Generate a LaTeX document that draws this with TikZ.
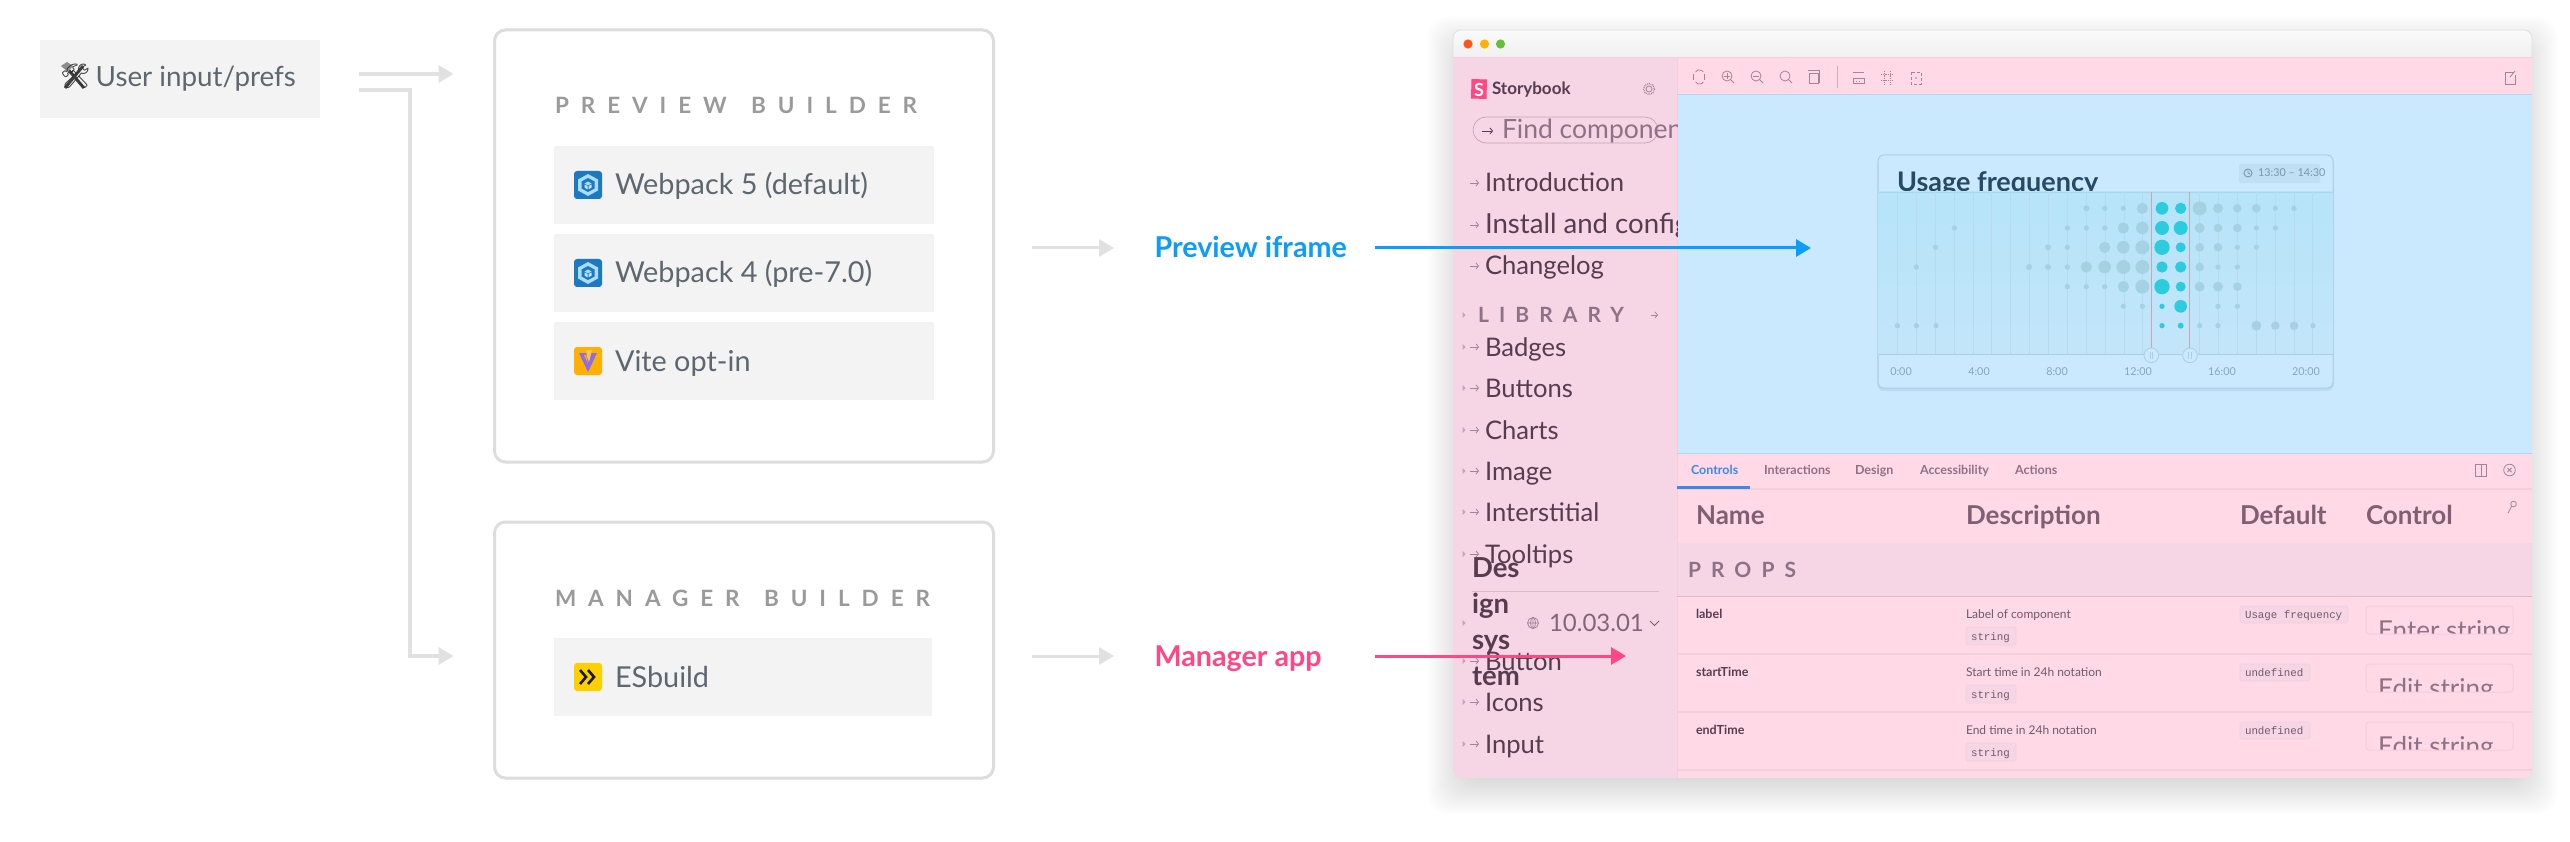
\documentclass[tikz,border=0pt]{standalone}
\usepackage{fontspec}
\setmainfont{Lato}
\setmonofont{Liberation Mono}
\newfontfamily\spfont[LetterSpace=48]{Lato}
\newfontfamily\hdfont[LetterSpace=53]{Lato}
\newfontfamily\emojifont{Noto Emoji}
\usetikzlibrary{arrows.meta,shapes.geometric}
\newcommand\szf[1]{\fontsize{#1}{#1}\selectfont}
\definecolor{boxgrey}{HTML}{F3F3F3}
\definecolor{lineg}{HTML}{DDDDDD}
\definecolor{arrg}{HTML}{E1E1E1}
\definecolor{txtg}{HTML}{5C6770}
\definecolor{headg}{HTML}{9A9A9A}
\definecolor{sbblue}{HTML}{0B9DF9}
\definecolor{sbpink}{HTML}{FF4785}
\definecolor{sidepink}{HTML}{F6D5E5}
\definecolor{panelpink}{HTML}{FFD9E6}
\definecolor{linepink}{HTML}{F3CEDD}
\definecolor{skyb}{HTML}{CAE9FF}
\definecolor{itemt}{HTML}{553D4F}
\definecolor{mutedt}{HTML}{8D7285}
\definecolor{icot}{HTML}{A38696}
\definecolor{cardl}{HTML}{A9CFE6}
\definecolor{dotg}{HTML}{A5D2E3}
\definecolor{dotc}{HTML}{2CCBDD}
\definecolor{axt}{HTML}{87A6BC}
\definecolor{wpblue}{HTML}{1C78C0}
\definecolor{wplight}{HTML}{A9DDF9}
\definecolor{viteo}{HTML}{FFB000}
\definecolor{vitep}{HTML}{8B6CF0}
\definecolor{vitey}{HTML}{FFC83C}
\definecolor{esy}{HTML}{FFCF00}
\definecolor{esk}{HTML}{191919}
\definecolor{tlr}{HTML}{FF5620}
\definecolor{tly}{HTML}{FFB000}
\definecolor{tlg}{HTML}{66BF3C}
\definecolor{titleb}{HTML}{264A63}
\definecolor{badgeb}{HTML}{BFDFF5}
\definecolor{gridtop}{HTML}{B6E4F9}
\definecolor{gridbot}{HTML}{C3E5FA}
\definecolor{redln}{HTML}{C8A8AE}
\definecolor{tabb}{HTML}{3C88F0}
\definecolor{headp}{HTML}{7F6072}
\tikzset{
  txt/.style={anchor=base west,inner sep=0pt,outer sep=0pt},
  boxn/.style={anchor=north west,inner sep=0pt,outer sep=0pt,draw=none,fill=boxgrey},
  cardn/.style={anchor=north west,inner sep=0pt,outer sep=0pt,draw=lineg,line width=3pt,rounded corners=11pt,fill=white},
  garrow/.style={draw=arrg,line width=3.5pt,-{Triangle[length=15pt,width=17pt]}},
  barrow/.style={line width=3pt,-{Triangle[length=15pt,width=17pt]}},
  sitem/.style={txt,font=\szf{25.6},text=itemt},
  ico/.style={draw=icot,line width=.8pt},
  sarr/.style={draw=icot,line width=.8pt,-{Straight Barb[length=2.5pt,width=6pt]}},
  codebox/.style={fill=sidepink,draw=linepink,line width=.6pt,rounded corners=1.5pt},
  codet/.style={txt,font=\ttfamily\szf{10.8},text=itemt!85!white},
  ctrlbox/.style={draw=linepink,line width=1pt,rounded corners=3pt},
}
\newcommand\wpicon[2]{\begin{scope}[shift={(#1,#2)}]
  \fill[wpblue,rounded corners=3pt] (0,0) rectangle (28,28);
  \fill[wplight] (14,3)--(24,8.5)--(24,19.5)--(14,25)--(4,19.5)--(4,8.5)--cycle;
  \fill[wpblue] (14,7)--(20.5,10.5)--(20.5,17.5)--(14,21)--(7.5,17.5)--(7.5,10.5)--cycle;
  \fill[wplight] (14,10.5)--(17.5,12.5)--(14,14.5)--(10.5,12.5)--cycle;
  \fill[wplight!70!white] (10.5,13.5)--(13.5,15)--(13.5,18.5)--(10.5,16.5)--cycle;
  \fill[wplight!70!white] (17.5,13.5)--(14.5,15)--(14.5,18.5)--(17.5,16.5)--cycle;
\end{scope}}
\newcommand\zoomico[2]{\draw[ico] (#1,#2) circle[radius=5];\draw[ico] ({#1+3.5},{#2+3.5})--({#1+7},{#2+7});}
\begin{document}
\begin{tikzpicture}[x=1pt,y=-1pt]
\useasboundingbox (0,0) rectangle (2570,842);
\fill[white] (0,0) rectangle (2570,842);

% ---------- left part
\node[boxn,minimum width=280pt,minimum height=78pt] (user) at (40,40) {};
\draw[black!75,line width=3pt] (66,67)--(84,88) (83,66)--(65,88);
\fill[black!45] (61,66)--(67,62)--(73,66)--(68,72)--cycle;
\node[txt,font=\emojifont\szf{24},text=black!80] (tools) at (60,85) {🛠};
\node[txt,font=\szf{27.8},text=txtg] (userT) at (95.7,87) {User input/prefs};

\node[cardn,minimum width=499pt,minimum height=432pt] (prev) at (494.5,30) {};
\node[txt,font=\hdfont\bfseries\szf{22.5},text=headg] (prevT) at (555,114) {PREVIEW\hspace{7pt} BUILDER};
\node[boxn,minimum width=380pt,minimum height=78pt] (r1) at (554,146) {};
\node[boxn,minimum width=380pt,minimum height=78pt] (r2) at (554,234) {};
\node[boxn,minimum width=380pt,minimum height=78pt] (r3) at (554,322) {};
\wpicon{574}{171}
\wpicon{574}{259}
\begin{scope}[shift={(574,347)}]
  \fill[viteo,rounded corners=3pt] (0,0) rectangle (28,28);
  \fill[vitep] (5,6)--(23,6)--(14,25)--cycle;
  \fill[vitey] (12,3)--(18,3)--(15,15)--(13,10)--cycle;
  \fill[viteo] (10,8)--(12,8)--(14,17)--cycle;
\end{scope}
\node[txt,font=\szf{28.8},text=txtg] (r1T) at (615,195) {Webpack 5 (default)};
\node[txt,font=\szf{28.8},text=txtg] (r2T) at (615,283) {Webpack 4 (pre-7.0)};
\node[txt,font=\szf{28.8},text=txtg] (r3T) at (615,371) {Vite opt-in};

\node[cardn,minimum width=499pt,minimum height=256pt] (man) at (494.5,522) {};
\node[txt,font=\hdfont\bfseries\szf{22.5},text=headg] (manT) at (555,606) {MANAGER\hspace{7pt} BUILDER};
\node[boxn,minimum width=378pt,minimum height=78pt] (r4) at (554,638) {};
\begin{scope}[shift={(574,663)}]
  \fill[esy,rounded corners=3pt] (0,0) rectangle (28,28);
  \draw[esk,line width=2.6pt] (6,7)--(12,14)--(6,21);
  \draw[esk,line width=2.6pt] (14,7)--(20,14)--(14,21);
\end{scope}
\node[txt,font=\szf{28.8},text=txtg] (r4T) at (615,687) {ESbuild};

\coordinate (a1s) at (358.5,74);
\coordinate (a1e) at (453.5,74);
\coordinate (a2s) at (358.5,90);
\coordinate (a2m) at (410,90);
\coordinate (a2n) at (410,656);
\coordinate (a2e) at (453.5,656);
\draw[garrow] (a1s)--(a1e);
\draw[garrow] (a2s)--(a2m)--(a2n)--(a2e);
\coordinate (a3s) at (1032,248);
\coordinate (a3e) at (1114,248);
\coordinate (a4s) at (1032,656);
\coordinate (a4e) at (1114,656);
\draw[garrow,line width=3pt] (a3s)--(a3e);
\draw[garrow,line width=3pt] (a4s)--(a4e);
\node[txt,font=\bfseries\szf{28.7},text=sbblue] (pif) at (1154.5,258) {Preview iframe};
\node[txt,font=\bfseries\szf{28.7},text=sbpink] (mapp) at (1154.5,666) {Manager app};

% ---------- window shadow
\foreach \e in {-12,-11,...,26}{
  \fill[black,opacity=.0045,rounded corners=20pt] ({1453-\e},{42-\e}) rectangle ({2532+\e},{789+\e});
}
% ---------- window
\begin{scope}
\clip[rounded corners=8pt] (1453,30) rectangle (2532,778);
\shade[top color=white!98!black,bottom color=white!94!black] (1453,30) rectangle (2532,58);
\fill[sidepink] (1453,58) rectangle (1677,778);
\fill[panelpink] (1677,58) rectangle (2532,95);
\fill[skyb] (1677,95) rectangle (2532,453);
\fill[panelpink] (1677,453) rectangle (2532,778);
\draw[linepink,line width=1pt] (1453,58)--(2532,58);
\draw[linepink,line width=1pt] (1677,58)--(1677,778);
\draw[cardl!70!skyb,line width=1pt] (1677,95)--(2532,95);
\draw[cardl!70!skyb,line width=1pt] (1677,453)--(2532,453);
\end{scope}
\draw[black!12,line width=.8pt,rounded corners=8pt] (1453,58)--(1453,30)--(2532,30)--(2532,58);
\fill[tlr] (1468,44) circle[radius=4.6];
\fill[tly] (1484.5,44) circle[radius=4.6];
\fill[tlg] (1500.5,44) circle[radius=4.6];

% ---------- sidebar
\begin{scope}
\clip (1453,58) rectangle (1677,778);
\fill[sbpink] (1471.5,79)--(1487,79.5)--(1486.5,99)--(1471,98.5)--cycle;
\node[anchor=center,inner sep=0pt,font=\bfseries\szf{18},text=white] (sbS) at (1479,89.5) {S};
\node[txt,font=\bfseries\szf{17},text=itemt] (sbT) at (1492,95) {Storybook};
\draw[ico] (1649,89) circle[radius=3];
\draw[ico,densely dotted,line width=1.4pt] (1649,89) circle[radius=5.5];
\draw[linepink!80!black,line width=.7pt,rounded corners=13pt] (1473,117) rectangle (1658,143);
\draw[sarr,draw=itemt] (1482,131)--(1493,131);
\node[txt,font=\szf{26.5},text=mutedt] (find) at (1502,139) {Find componen};
\foreach \tn/\bl in {Introduction/192,Changelog/275}{
  \node[sitem] (side\bl) at (1485,\bl) {\tn};
  \draw[sarr] (1470,{\bl-9})--(1479,{\bl-9});
}
\node[sitem,font=\szf{27.6}] (side234) at (1485,234) {Install and config};
\draw[sarr] (1470,225)--(1479,225);
\node[txt,font=\spfont\bfseries\szf{21},text=mutedt] (lib) at (1478,323) {LIBRARY};
\fill[icot!60!sidepink] (1462.5,312)--(1465.5,315)--(1462.5,318)--cycle;
\draw[sarr] (1651,315)--(1658,315);
\foreach \tn/\bl in {Badges/356,Buttons/397,Charts/439,Image/480,Interstitial/521,Tooltips/563,Button/670,Icons/711,Input/753}{
  \node[sitem] (side\bl) at (1485,\bl) {\tn};
  \draw[sarr] (1470,{\bl-9})--(1479,{\bl-9});
  \fill[icot!60!sidepink] (1462.5,{\bl-12})--(1465.5,{\bl-9})--(1462.5,{\bl-6})--cycle;
}
\fill[icot!60!sidepink] (1462.5,620)--(1465.5,623)--(1462.5,626)--cycle;
\draw[linepink!90!black,line width=1pt] (1472,591)--(1659,591);
\foreach \tn/\bl in {Des/577,ign/613,sys/649,tem/685}{
  \node[txt,font=\bfseries\szf{27.5},text=itemt] (dsg\bl) at (1472,\bl) {\tn};
}
\draw[ico] (1533,623) circle[radius=5.5] (1533,617.5)--(1533,628.5) (1527.5,623)--(1538.5,623);
\draw[ico] (1533,623) ellipse[x radius=2.5,y radius=5.5];
\node[txt,font=\szf{24},text=mutedt!90!black] (ver) at (1549,631) {10.03.01};
\draw[ico,draw=itemt!80!white] (1650,621)--(1654.5,625.5)--(1659,621);
\end{scope}

% ---------- toolbar icons
\draw[ico] (1695.5,72) arc[start angle=210,end angle=330,radius=4.5];
\draw[ico] (1695.5,82) arc[start angle=150,end angle=30,radius=4.5];
\draw[ico] (1693.5,74)--(1693.5,80) (1704.5,74)--(1704.5,80);
\zoomico{1727}{76}
\draw[ico] (1724,76)--(1730,76) (1727,73)--(1727,79);
\zoomico{1756}{76}
\draw[ico] (1753,76)--(1759,76);
\zoomico{1785}{76}
\draw[ico] (1809,73) rectangle (1818,83) (1808,70)--(1819,70) (1819,70)--(1819,83);
\draw[linepink!85!black,line width=.8pt] (1837,66)--(1837,88);
\draw[ico] (1853,72)--(1864,72) (1853,78) rectangle (1864,83);
\draw[ico,dotted] (1856,78)--(1856,81) (1859,78)--(1859,81);
\draw[ico,densely dotted] (1884,71)--(1884,84) (1890,71)--(1890,84) (1881,74.5)--(1893,74.5) (1881,80.5)--(1893,80.5);
\draw[ico,densely dashed] (1911,72) rectangle (1921,84);
\fill[icot] (1916,78) circle[radius=.8];
\draw[ico] (2513.5,72)--(2505,72)--(2505,84)--(2515,84)--(2515,75);
\draw[ico] (2510,77)--(2515,71);

% ---------- preview card
\fill[cardl!50!skyb,rounded corners=7pt] (1877,157) rectangle (2334,391);
\draw[cardl,fill=skyb,line width=1pt,rounded corners=6pt] (1878,155) rectangle (2333,388);
\node[txt,font=\bfseries\szf{27},text=titleb] (ut) at (1897,192) {Usage frequency};
\fill[badgeb,rounded corners=2pt] (2239,164) rectangle (2320,183);
\draw[axt!90!black,line width=.9pt] (2248,173) circle[radius=4] (2248,170.5)--(2248,173)--(2250,174);
\node[txt,font=\szf{10.8},text=axt!90!black] (ubadge) at (2258,177) {13:30 – 14:30};
\shade[top color=gridtop,bottom color=gridbot] (1878.5,192) rectangle (2332.5,354);
\draw[cardl!80!skyb,line width=.8pt] (1878.5,192)--(2332.5,192);
\draw[cardl,line width=1pt] (1878.5,354)--(2332.5,354);
\begin{scope}[shift={(1860,140)},x=.33333pt,y=-.33333pt]
  \foreach \xx in {112,169,226,283,339,395,451,508,565,622,679,736,792,848,1019,1075,1132,1189,1245,1302,1358}{
    \draw[cardl!60!skyb,line width=1pt] (\xx,155)--(\xx,642);
  }
  \foreach \yy/\items in {
    205/{679/9,734/8,790/8,847/17,1019/21,1074/15,1132/13,1189/13,1246/8,1302/8},
    264/{283/8,622/8,679/8,734/8,790/17,847/19,1019/15,1074/13,1132/13,1189/8,1246/8},
    322/{226/8,564/9,622/8,734/17,790/19,847/21,1019/13,1074/13,1132/8,1189/8},
    381/{169/8,507/9,564/9,622/8,679/17,734/19,790/21,847/21,1019/13,1074/8,1132/8},
    440/{622/8,679/8,734/8,790/17,847/21,1019/15,1074/15,1132/13},
    499/{790/8,847/8,1074/8,1132/8},
    557/{112/8,169/8,228/8,1019/8,1074/8,1189/15,1246/13,1302/13,1359/8}}{
    \foreach \xx/\rr in \items { \fill[dotg] (\xx,\yy) circle[radius=\rr]; }
  }
  \foreach \xx/\yy/\rr in {906/205/19,962/205/17,906/264/21,962/264/21,906/322/23,962/322/15,906/381/17,962/381/17,906/440/23,962/440/15,906/499/8,962/499/19,906/557/8,962/557/9}{
    \fill[dotc] (\xx,\yy) circle[radius=\rr];
  }
  \draw[redln,line width=1.3pt] (875,155)--(875,630);
  \draw[redln,line width=1.3pt] (988,155)--(988,630);
  \foreach \xx in {874,990}{
    \draw[cardl,fill=skyb,line width=.8pt] (\xx,646) circle[radius=22];
    \draw[cardl,line width=.8pt] ({\xx-4},636)--({\xx-4},656) ({\xx+4},636)--({\xx+4},656);
  }
\end{scope}
\foreach \tn/\xx in {0:00/1901,4:00/1979,8:00/2057,12:00/2138,16:00/2222,20:00/2306}{
  \node[anchor=base,inner sep=0pt,font=\szf{10.8},text=axt] (ax\xx) at (\xx,375) {\tn};
}

% ---------- addon panel
\draw[linepink,line width=1.5pt] (1677,489)--(2532,489);
\fill[tabb] (1677,486) rectangle (1750,489);
\node[txt,font=\bfseries\szf{12.5},text=tabb] (tab1) at (1691,474) {Controls};
\foreach \tn/\xx in {Interactions/1764,Design/1855,Accessibility/1920,Actions/2015}{
  \node[txt,font=\bfseries\szf{12.5},text=mutedt] (tab\xx) at (\xx,474) {\tn};
}
\draw[ico] (2475.5,464) rectangle (2486.5,476) (2481,464)--(2481,476);
\draw[ico] (2509.5,470) circle[radius=5.8] (2507.5,468)--(2511.5,472) (2511.5,468)--(2507.5,472);
\foreach \tn/\xx in {Name/1696,Description/1966,Default/2240,Control/2366}{
  \node[txt,font=\bfseries\szf{26},text=headp] (hd\xx) at (\xx,524) {\tn};
}
\draw[ico] (2513.5,504) circle[radius=2.8] (2511.5,506.5)--(2508,513);
\draw[linepink,line width=1pt] (1677,543)--(2532,543);
\fill[sidepink] (1677.5,543) rectangle (2532,596);
\draw[linepink!90!black,line width=1pt] (1677,596.5)--(2532,596.5);
\node[txt,font=\spfont\bfseries\szf{21},text=mutedt] (props) at (1688,577) {PROPS};
\foreach \yy in {654,712,770}{
  \draw[linepink,line width=1.2pt] (1677,\yy)--(2532,\yy);
}
\foreach \nm/\dsc/\dft/\dw/\ctl/\yy in {label/Label of component/Usage frequency/2348/Enter string/0,
  startTime/Start time in 24h notation/undefined/2310/Edit string/58,
  endTime/End time in 24h notation/undefined/2310/Edit string/116}{
  \node[txt,font=\bfseries\szf{12.5},text=itemt] (nm\yy) at (1696,{618+\yy}) {\nm};
  \node[txt,font=\szf{12},text=itemt!85!white] (ds\yy) at (1966,{618+\yy}) {\dsc};
  \draw[codebox] (1966,{627+\yy}) rectangle (2016,{645+\yy});
  \node[codet] (st\yy) at (1971,{640+\yy}) {string};
  \draw[codebox] (2240,{606+\yy}) rectangle (\dw,{623+\yy});
  \node[codet] (df\yy) at (2245,{618+\yy}) {\dft};
  \begin{scope}
    \clip (2366,{606+\yy}) rectangle (2513,{633.5+\yy});
    \node[txt,font=\szf{26},text=mutedt] (cl\yy) at (2378,{639+\yy}) {\ctl};
  \end{scope}
  \draw[ctrlbox] (2366,{606+\yy}) rectangle (2513,{634+\yy});
}

% ---------- overlay arrows
\coordinate (bs) at (1375,248);
\coordinate (be) at (1811,248);
\coordinate (ps) at (1375,656);
\coordinate (pe) at (1626,656);
\draw[barrow,draw=sbblue,fill=sbblue] (bs)--(be);
\draw[barrow,draw=sbpink,fill=sbpink] (ps)--(pe);
\end{tikzpicture}
\end{document}
